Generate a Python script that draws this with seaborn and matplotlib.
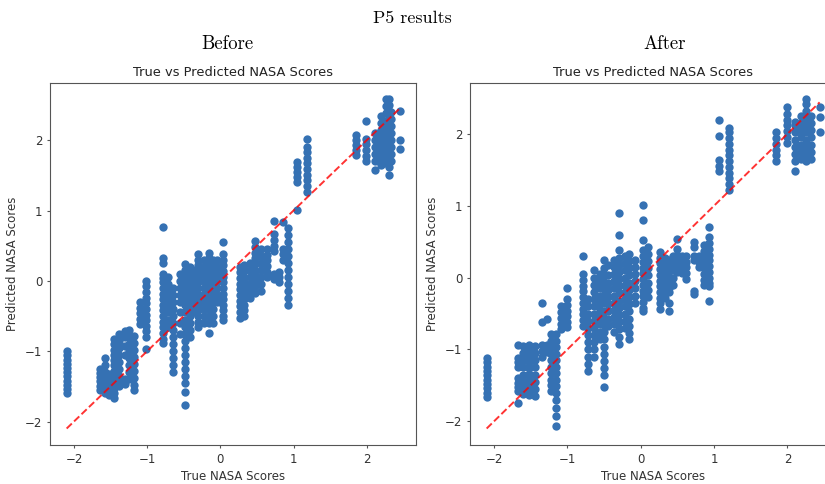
import matplotlib
matplotlib.use("Agg")
import matplotlib.pyplot as plt
import seaborn as sns
import pandas as pd

# true NASA score of each vertical stripe, and the predicted scores in it
before_true = [-2.10, -1.65, -1.58, -1.52, -1.45, -1.38, -1.30, -1.25, -1.18, -1.10, -1.02,
               -0.78, -0.72, -0.64, -0.55, -0.48, -0.42, -0.35, -0.30, -0.22, -0.16, -0.10,
               -0.04, 0.04, 0.27, 0.33, 0.40, 0.48, 0.55, 0.64, 0.73, 0.80, 0.85, 0.93,
               1.05, 1.19, 1.85, 1.99, 2.12, 2.20, 2.26, 2.30, 2.33, 2.45]
before_pred = [
    [-1.00, -1.06, -1.12, -1.18, -1.24, -1.30, -1.36, -1.42, -1.48, -1.54, -1.60],
    [-1.25, -1.31, -1.37, -1.43, -1.49, -1.55],
    [-1.10, -1.20, -1.30, -1.36, -1.42, -1.48, -1.54, -1.60],
    [-1.33, -1.40, -1.47, -1.52, -1.58, -1.62],
    [-0.82, -0.90, -0.98, -1.05, -1.12, -1.20, -1.28, -1.36, -1.44, -1.52, -1.60, -1.66],
    [-0.75, -0.85, -0.95, -1.05, -1.15, -1.25, -1.35, -1.43, -1.50],
    [-0.72, -0.80, -0.92, -1.05, -1.40, -1.47],
    [-0.70, -0.80, -0.90, -1.00, -1.10, -1.20, -1.30, -1.40],
    [-0.78, -0.88, -0.98, -1.08, -1.18, -1.28, -1.38, -1.48, -1.55],
    [-0.30, -0.38, -0.46, -0.54, -0.62],
    [0.00, -0.08, -0.16, -0.24, -0.32, -0.40, -0.48, -0.56, -0.64, -0.72, -0.80, -0.97],
    [0.77, 0.33, 0.26, 0.10, 0.04, -0.02, -0.10, -0.18, -0.26, -0.34, -0.42, -0.50,
     -0.58, -0.66, -0.74, -0.82, -0.88],
    [0.05, -0.05, -0.15, -0.25, -0.35, -0.45, -0.55, -0.65],
    [-0.10, -0.20, -0.30, -0.40, -0.50, -0.60, -0.70, -0.80, -0.90, -1.00, -1.10, -1.20, -1.30],
    [0.10, 0.00, -0.10, -0.20, -0.30, -0.45, -0.60, -0.75],
    [0.24, 0.15, 0.05, -0.05, -0.15, -0.25, -0.35, -0.45, -0.55, -0.65, -0.75, -0.85,
     -0.95, -1.05, -1.15, -1.25, -1.35, -1.45, -1.58, -1.76],
    [0.20, 0.10, 0.00, -0.10, -0.20, -0.30, -0.40, -0.50, -0.60, -0.70, -0.80],
    [0.15, 0.05, -0.05, -0.15, -0.25, -0.35, -0.45],
    [0.38, 0.30, 0.22, 0.14, 0.06, -0.02, -0.10, -0.18, -0.26, -0.34, -0.42, -0.50, -0.58, -0.66],
    [0.30, 0.20, 0.10, 0.00, -0.10, -0.20, -0.30, -0.40, -0.50, -0.60],
    [0.40, 0.32, 0.24, 0.16, 0.08, 0.00, -0.08, -0.16, -0.24, -0.32, -0.40, -0.50, -0.60, -0.74],
    [0.30, 0.20, 0.10, 0.00, -0.10, -0.20, -0.30, -0.40, -0.50, -0.60],
    [0.30, 0.20, 0.10, 0.00, -0.10, -0.20, -0.30],
    [0.55, 0.38, 0.30, 0.22, 0.14, 0.06, -0.02, -0.10, -0.18, -0.26, -0.34, -0.42, -0.50, -0.55],
    [0.20, 0.12, 0.04, -0.04, -0.12, -0.20, -0.28, -0.36, -0.44, -0.53],
    [0.22, 0.14, 0.06, -0.02, -0.10, -0.18, -0.26, -0.34, -0.42, -0.50],
    [0.25, 0.15, 0.05, -0.05, -0.15, -0.25],
    [0.57, 0.48, 0.40, 0.32, 0.24, 0.16, 0.08, 0.00, -0.08, -0.17],
    [0.45, 0.35, 0.25, 0.15, 0.05, -0.05, -0.15],
    [0.45, 0.37, 0.29, 0.21, 0.13, 0.05],
    [0.85, 0.66, 0.58, 0.50, 0.42, 0.10, 0.03],
    [0.12, 0.05, -0.02],
    [0.83, 0.45, 0.38, 0.30],
    [0.75, 0.65, 0.55, 0.45, 0.35, 0.25, 0.15, 0.05, -0.05, -0.15, -0.25, -0.35],
    [1.01, 1.41, 1.48, 1.55, 1.62, 1.69],
    [1.27, 1.35, 1.43, 1.51, 1.59, 1.67, 1.75, 1.83, 1.91, 2.01],
    [1.79, 1.86, 1.93, 2.00, 2.07],
    [2.28, 1.70, 1.78, 1.86, 1.94, 2.02],
    [1.57, 1.70, 1.80, 1.90, 2.00, 2.10],
    [1.65, 1.75, 1.85, 1.95, 2.05, 2.15, 2.25, 2.35],
    [1.68, 1.78, 1.88, 1.98, 2.08, 2.18, 2.28, 2.38, 2.48, 2.58],
    [1.50, 1.62, 1.72, 1.82, 1.92, 2.02, 2.12, 2.22, 2.32, 2.42, 2.50, 2.58],
    [1.70, 1.80, 1.90, 2.00, 2.10, 2.20, 2.30, 2.40],
    [2.42, 2.00, 1.87],
]

after_true = [-2.10, -1.67, -1.60, -1.52, -1.44, -1.34, -1.28, -1.22, -1.16, -1.08, -1.00,
              -0.79, -0.72, -0.64, -0.56, -0.50, -0.45, -0.37, -0.30, -0.22, -0.16, -0.08,
              0.03, 0.10, 0.27, 0.33, 0.39, 0.44, 0.50, 0.56, 0.62, 0.73, 0.80, 0.86, 0.93,
              1.07, 1.21, 1.85, 1.99, 2.10, 2.19, 2.26, 2.32, 2.44]
after_pred = [
    [-1.12, -1.18, -1.24, -1.30, -1.36, -1.42, -1.48, -1.54, -1.60, -1.66],
    [-0.94, -1.12, -1.18, -1.25, -1.40, -1.46, -1.52, -1.58, -1.75],
    [-0.95, -1.05, -1.15, -1.25, -1.35, -1.45, -1.55, -1.62],
    [-0.94, -1.02, -1.10, -1.18, -1.26, -1.34, -1.42, -1.50, -1.58, -1.64],
    [-0.95, -1.05, -1.15, -1.25, -1.35, -1.45, -1.55, -1.65],
    [-0.36, -0.62, -0.94, -1.02, -1.10],
    [-0.58, -0.94, -1.04],
    [-0.79, -0.88, -0.97, -1.06, -1.15, -1.24, -1.33, -1.42, -1.50, -1.58],
    [-0.79, -0.88, -0.97, -1.06, -1.15, -1.24, -1.33, -1.42, -1.51, -1.60, -1.70, -1.81,
     -1.93, -2.07],
    [-0.40, -0.48, -0.56, -0.64, -0.72],
    [-0.15, -0.30, -0.38, -0.46, -0.54, -0.62, -0.69],
    [0.30, 0.05, -0.03, -0.11, -0.19, -0.27, -0.35, -0.43, -0.51, -0.59, -0.67],
    [-0.30, -0.40, -0.50, -0.60, -0.70, -0.80, -0.90, -1.00, -1.10, -1.20, -1.30],
    [0.10, 0.00, -0.10, -0.20, -0.30, -0.40, -0.50, -0.60, -0.70, -0.80, -0.90, -1.00, -1.10],
    [0.05, -0.05, -0.15, -0.25, -0.35, -0.45, -0.55, -0.65, -0.75, -0.85],
    [0.24, 0.14, 0.04, -0.06, -0.16, -0.26, -0.36, -0.46, -0.56, -0.66, -0.76, -0.86,
     -0.96, -1.06, -1.16, -1.26, -1.36, -1.52],
    [0.18, 0.03, -0.07, -0.17, -0.27, -0.37, -0.47, -0.57, -0.67],
    [0.25, 0.15, 0.05, -0.05, -0.15, -0.25, -0.35, -0.45, -0.55, -0.65, -0.75],
    [0.90, 0.60, 0.38, 0.28, 0.18, 0.08, -0.02, -0.12, -0.22, -0.32, -0.42, -0.52, -0.62,
     -0.72, -0.82, -0.92],
    [0.30, 0.20, 0.10, 0.00, -0.10, -0.20, -0.30, -0.40, -0.50, -0.60, -0.70],
    [0.33, 0.23, 0.13, 0.03, -0.07, -0.17, -0.27, -0.37, -0.47, -0.57, -0.67, -0.77, -0.85],
    [0.25, 0.15, 0.05, -0.05, -0.15, -0.25, -0.35],
    [1.01, 0.80, 0.52, 0.38, 0.30, 0.22, 0.14, 0.06, -0.02, -0.10, -0.18, -0.26, -0.34,
     -0.42, -0.47],
    [0.43, 0.33, 0.23, 0.13, 0.03, -0.07, -0.17, -0.27],
    [0.36, 0.28, 0.20, 0.12, 0.04, -0.04, -0.12, -0.20, -0.28, -0.36, -0.43],
    [0.28, 0.20, 0.12, 0.04, -0.04, -0.12, -0.20, -0.28],
    [0.25, 0.17, 0.09, 0.01, -0.07, -0.15, -0.20, -0.35, -0.47],
    [0.30, 0.20, 0.10, 0.00, -0.10],
    [0.54, 0.40, 0.32, 0.24, 0.16, 0.08],
    [0.30, 0.22, 0.14, 0.06],
    [0.30, 0.22, 0.15, 0.06, -0.02],
    [0.50, 0.43, 0.30, 0.24, -0.18, -0.23],
    [0.30, 0.22, 0.15],
    [0.45, 0.37, 0.29, 0.21, 0.13, 0.05, -0.03, -0.10],
    [0.70, 0.56, 0.48, 0.40, 0.32, 0.24, 0.16, 0.08, 0.00, -0.08, -0.12, -0.32],
    [2.20, 1.97, 1.64, 1.56, 1.48],
    [1.22, 1.30, 1.38, 1.46, 1.54, 1.62, 1.70, 1.78, 1.86, 1.94, 2.02, 2.08],
    [1.62, 1.70, 1.78, 1.86, 1.94, 2.02],
    [1.88, 1.96, 2.04, 2.12, 2.20, 2.28, 2.38],
    [1.48, 1.62, 1.72, 1.82, 1.92, 2.02, 2.12, 2.17],
    [1.65, 1.75, 1.85, 1.95, 2.05, 2.15, 2.25],
    [1.62, 1.72, 1.82, 1.92, 2.02, 2.12, 2.22, 2.32, 2.42, 2.48],
    [1.65, 1.75, 1.85, 1.95, 2.05, 2.15, 2.25],
    [2.37, 2.24, 2.03],
]


def to_frame(xs, ys):
    rows = [(x, y) for x, col in zip(xs, ys) for y in col]
    return pd.DataFrame(rows, columns=["true", "pred"])


plt.rcParams["axes.edgecolor"] = "#555555"
plt.rcParams["xtick.color"] = "#555555"
plt.rcParams["ytick.color"] = "#555555"
plt.rcParams["xtick.labelcolor"] = "#333333"
plt.rcParams["ytick.labelcolor"] = "#333333"

fig = plt.figure(figsize=(8.25, 4.84), dpi=100)
ax1 = fig.add_axes([0.0606, 0.0806, 0.444, 0.748])
ax2 = fig.add_axes([0.5697, 0.0806, 0.444, 0.748])

for ax, xs, ys in [(ax1, before_true, before_pred), (ax2, after_true, after_pred)]:
    df = to_frame(xs, ys)
    sns.scatterplot(data=df, x="true", y="pred", ax=ax, s=36, color="#3571b3", linewidth=0)
    lo, hi = df["true"].min(), df["true"].max()
    ax.plot([lo, hi], [lo, hi], "r--", lw=1.4, alpha=0.8)
    ax.set_title("True vs Predicted NASA Scores", fontsize=9.4, color="#222222", pad=5)
    ax.set_xlabel("True NASA Scores", fontsize=8.5, color="#333333", labelpad=3)
    ax.set_ylabel("Predicted NASA Scores", fontsize=8.5, color="#333333")
    ax.tick_params(labelsize=8.5, length=2.5, pad=3)
    ax.set_xticks([-2, -1, 0, 1, 2])

fig.text(0.5, 0.963, "P5 results", ha="center", va="center", fontsize=13, family="cmr10")
fig.text(0.276, 0.909, "Before", ha="center", va="center", fontsize=13.5, family="cmr10")
fig.text(0.806, 0.909, "After", ha="center", va="center", fontsize=13.5, family="cmr10")

fig.savefig("out.png", dpi=100)
